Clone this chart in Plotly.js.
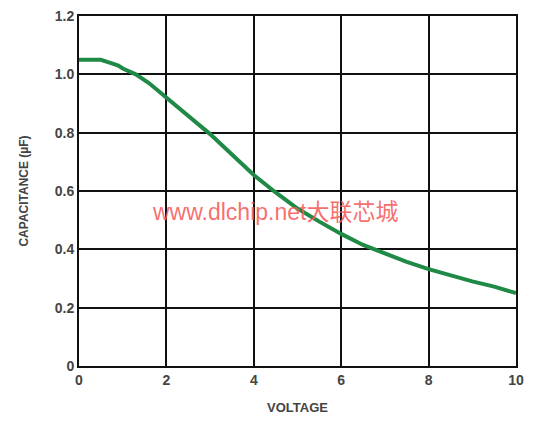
<!DOCTYPE html>
<html><head><meta charset="utf-8">
<script src="https://cdn.plot.ly/plotly-3.0.1.min.js"></script>
<style>body{margin:0;background:#fff}#c{width:550px;height:426px}</style>
</head><body><div id="c"></div>
<script>
const voltage = [0, 0.3, 0.5, 0.7, 0.9, 1.0, 1.15, 1.3, 1.6, 2.0, 2.5, 3.0, 3.5, 4.0, 4.5, 5.0, 5.5, 6.0, 6.5, 7.0, 7.5, 8.0, 8.5, 9.0, 9.5, 10.0];
const capacitance = [1.05, 1.05, 1.05, 1.04, 1.03, 1.02, 1.01, 1.0, 0.97, 0.92, 0.86, 0.795, 0.725, 0.655, 0.595, 0.54, 0.495, 0.453, 0.415, 0.385, 0.357, 0.332, 0.31, 0.29, 0.272, 0.25];
const yTickVals = [0, 0.2, 0.4, 0.6, 0.8, 1.0, 1.2];
const yTickText = ["0", "0.2", "0.4", "0.6", "0.8", "1.0", "1.2"];
const xTickVals = [0, 2, 4, 6, 8, 10];

const fnt = {family: "Liberation Sans, Arial, sans-serif", size: 14, color: "#444", weight: "bold"};
Plotly.newPlot("c", [{
  x: voltage, y: capacitance, mode: "lines",
  line: {color: "#1f8a45", width: 4}, hoverinfo: "skip"
}], {
  width: 550, height: 426,
  margin: {l: 79, r: 34, t: 16, b: 60},
  paper_bgcolor: "#fff", plot_bgcolor: "#fff",
  showlegend: false,
  xaxis: {range: [0, 10], tickvals: xTickVals, showgrid: true, gridcolor: "#111", gridwidth: 2,
    zeroline: false, showline: true, linecolor: "#111", linewidth: 2, mirror: true,
    ticks: "", tickfont: fnt,
    title: {text: "<b>VOLTAGE</b>", font: {family: fnt.family, size: 13, color: "#444"}, standoff: 16}},
  yaxis: {range: [0, 1.2], tickvals: yTickVals, ticktext: yTickText, showgrid: true, gridcolor: "#111", gridwidth: 2,
    zeroline: false, showline: true, linecolor: "#111", linewidth: 2, mirror: true,
    ticks: "", tickfont: fnt,
    title: {text: "<b>CAPACITANCE (µF)</b>", font: {family: fnt.family, size: 12, color: "#444"}, standoff: 24}},
  annotations: [{
    text: "www.dlchip.net大联芯城", xref: "paper", yref: "paper", x: 0.448, y: 0.44,
    showarrow: false, font: {family: "Liberation Sans, Noto Sans CJK SC, sans-serif", size: 23, color: "rgba(245,85,85,0.85)"}
  }]
}, {staticPlot: true});
</script></body></html>
